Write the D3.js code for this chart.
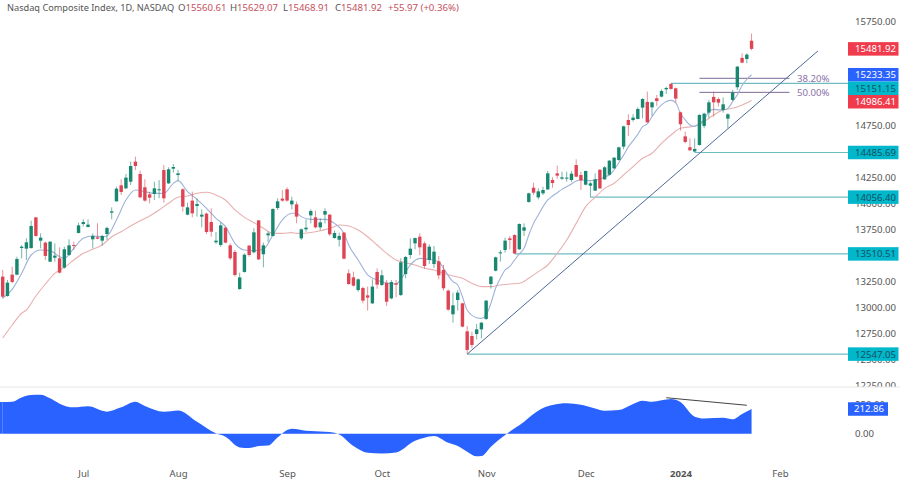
<!DOCTYPE html>
<html>
<head>
<meta charset="utf-8">
<style>
  html, body { margin: 0; background: #fff; }
  text { font-family: "Noto Sans", sans-serif; }
</style>
<script src="https://cdn.jsdelivr.net/npm/d3@7"></script>
</head>
<body>
<svg id="chart" width="900" height="483"></svg>
<script>
// daily bars (bar 0 = 8 Jun 2023, bar 158 = 24 Jan 2024)
var opens = [
  13292,13106,13311,13311,13567,13561,13567,13862,13638,13619,
  13436,13474,13468,13378,13500,13596,13712,13798,13769,13651,
  13670,13638,13702,13907,14016,14170,14141,14205,14398,14279,
  14151,14083,14087,14122,14317,14189,14330,14269,14132,13888,
  14023,13971,13869,13898,13817,13622,13596,13763,13593,13529,
  13173,13337,13590,13526,13833,13507,13689,13683,13952,14042,
  14132,13987,13987,13660,13747,13881,13862,13766,13888,13888,
  13663,13647,13715,13324,13285,13163,13183,13112,13035,13337,
  13212,13234,13083,13228,13115,13317,13500,13612,13676,13612,
  13452,13413,13439,13356,13157,12930,13067,13035,12766,12721,
  12740,12785,12885,13221,13349,13516,13548,13660,13692,13555,
  13734,14010,14147,14054,14093,14131,14221,14285,14234,14237,
  14221,14365,14269,14176,14167,14119,14320,14228,14272,14333,
  14413,14542,14798,14798,14808,14917,14972,14920,15007,15023,
  15093,15145,15103,14872,14641,14536,14495,14558,14741,14869,
  15020,15000,14895,14811,14991,15113,15395,15385,15560.61
];
var highs = [
  13356,13260,13388,13484,13596,13660,13830,13866,13708,13628,
  13632,13612,13574,13580,13651,13628,13811,13843,13843,13708,
  13805,13692,13773,13958,14157,14228,14279,14398,14446,14311,
  14228,14109,14205,14221,14365,14343,14375,14317,14141,14003,
  14109,14045,13939,13907,13949,13721,13811,13773,13612,13548,
  13330,13516,13596,13757,13837,13619,13724,13949,14045,14125,
  14151,14061,14013,13756,13843,13939,13926,13853,13949,13894,
  13734,13715,13721,13362,13340,13276,13196,13196,13266,13372,
  13356,13260,13260,13260,13468,13490,13660,13667,13708,13628,
  13603,13587,13490,13404,13170,13138,13163,13042,12817,12763,
  12837,12856,13067,13298,13484,13548,13667,13683,13699,13804,
  13804,14099,14195,14141,14157,14308,14247,14359,14301,14301,
  14308,14420,14301,14311,14205,14285,14324,14356,14413,14439,
  14542,14744,14853,14853,14920,15007,15071,14975,15039,15093,
  15119,15151.15,15110,14879,14686,14622,14622,14853,14869,14991,
  15071,15016,15016,14863,15087,15318,15439,15439,15629.07
];
var lows = [
  13083,13099,13228,13305,13468,13452,13561,13676,13564,13452,
  13432,13436,13324,13369,13491,13548,13708,13773,13766,13564,
  13651,13590,13644,13843,14013,14077,14132,14173,14317,14045,
  14013,13997,14029,14045,14003,14183,14292,14215,13917,13882,
  13862,13869,13766,13702,13676,13606,13580,13612,13452,13292,
  13164,13330,13484,13516,13452,13382,13625,13676,13933,14013,
  14013,13939,13805,13644,13724,13804,13756,13740,13804,13683,
  13657,13580,13458,13212,13196,13147,13035,12965,13029,13176,
  13202,13010,13074,13093,13106,13276,13465,13555,13500,13369,
  13413,13375,13266,13157,12965,12849,12965,12805,12547.05,12603,
  12689,12699,12875,13176,13343,13436,13522,13555,13510.51,13548,
  13683,14003,14077,14035,14077,14125,14147,14234,14221,14205,
  14202,14247,14125,14170,14056.4,14115,14135,14221,14266,14330,
  14407,14516,14645,14782,14805,14815,14770,14837,14933,15016,
  15048,15090,14965,14696,14574,14500,14485.69,14552,14718,14815,
  14831,14927,14869,14718,14981,15087,15343,15343,15468.91
];
var closes = [
  13099,13234,13241,13462,13580,13622,13779,13683,13667,13491,
  13628,13494,13330,13555,13593,13587,13785,13817,13792,13683,
  13657,13683,13760,13920,14138,14106,14244,14356,14356,14055,
  14023,14051,14141,14132,14045,14324,14346,14285,13965,13958,
  13901,13990,13888,13721,13724,13638,13785,13619,13468,13308,
  13285,13503,13500,13718,13458,13593,13708,13942,14016,14023,
  14023,14023,13869,13747,13763,13923,13766,13814,13923,13699,
  13712,13683,13465,13221,13205,13266,13061,13090,13196,13215,
  13305,13051,13240,13215,13430,13481,13561,13663,13574,13394,
  13580,13532,13305,13180,12974,13016,13138,12811,12587,12635,
  12785,12849,13061,13292,13478,13526,13638,13644,13515,13798,
  13766,14093,14099,14112,14125,14285,14192,14263,14247,14244,
  14282,14253,14218,14308,14189,14228,14141,14343,14407,14436,
  14535,14737,14750,14821,14904,15000,14776,14968,14981,15077,
  15106,15097,15004,14757,14587,14507,14520,14847,14859,14968,
  14968,14965,14949,14853,15061,15311,15350,15427,15481.92
];

// moving averages, read at the bars listed
var fastBars = [0,2,4,6,8,10,12,13,15,17,19,21,22,24,26,28,30,32,34,36,37,39,41,43,45,47,49,51,53,55,57,59,61,62,
  63,65,68,70,72,73,75,77,79,81,83,84,86,88,90,92,93,95,96,97,98,100,101,102,103,104,105,106,
  107,108,109,110,111,112,113,114,115,116,117,118,119,120,121,122,123,124,125,126,127,128,129,130,
  131,132,133,134,135,136,137,138,139,140,141,142,143,144,145,146,147,148,149,150,151,152,153,154,155,156,157,158];
var fastValues = [13083,13170,13324,13500,13548,13542,13484,13468,13564,13660,13683,13676,13683,13837,14029,14125,14109,14093,14093,14189,14215,14109,14035,13949,13853,13773,13612,13548,13542,13555,13692,13837,13901,13901,
  13869,13843,13843,13804,13708,13596,13452,13308,13260,13228,13221,13266,13404,13468,13458,13436,13372,13244,13212,13099,12971,12897,12891,12923,13035,13180,13276,13356,
  13390,13452,13510,13564,13692,13804,13884,13965,14029,14067,14099,14131,14157,14183,14212,14221,14218,14215,14221,14228,14253,14269,14320,14390,
  14460,14540,14600,14660,14735,14760,14830,14895,14943,14975,14987,14965,14860,14800,14750,14735,14765,14800,14880,14900,14895,14894,14910,14975,15040,15130,15190,15233.35];

var slowBars = [0,2,4,5,7,9,11,13,15,17,19,21,23,25,27,29,31,33,35,37,39,41,43,45,47,49,51,53,55,57,59,61,62,
  63,66,69,71,73,75,77,79,81,83,85,87,89,91,93,95,97,99,101,103,105,107,109,111,113,115,117,119,121,123,125,127,129,
  131,133,135,137,139,141,143,146,148,150,152,154,156,158];
var slowValues = [12702,12827,12940,12971,13106,13221,13324,13381,13452,13516,13555,13596,13676,13724,13779,13830,13875,13933,13997,14055,14067,14093,14103,14077,14029,13933,13862,13811,13757,13708,13708,13715,13708,
  13708,13724,13756,13788,13779,13740,13676,13596,13516,13452,13426,13404,13372,13356,13324,13298,13276,13228,13196,13196,13212,13221,13228,13276,13340,13404,13516,13644,13804,13965,14055,14141,14190,
  14270,14350,14430,14478,14574,14654,14718,14741,14782,14847,14895,14911,14943,14986.41];

// lower pane oscillator, read at the bars listed
var oscBars = [0,2,4,6,8,10,12,15,18,22,25,28,30,34,37,41,45,47,50,52,54,56,58,60,61,64,68,70,71,74,77,80,83,87,89,91,94,
  96,98,100,101,103,106,108,110,112,114,116,119,122,125,127,130,133,135,137,141,143,146,148,152,154,156,158];
var oscValues = [273,276,313,333,336,305,259,227,236,190,227,276,239,190,201,103,3,-26,-118,-124,-106,-101,-32,32,43,26,17,9,-6,-106,-164,-170,-161,-60,-34,-20,-78,
  -106,-155,-195,-193,-112,-11,46,103,170,221,247,262,250,218,198,204,256,285,276,299,273,147,132,138,124,170,212.86];

// only the labels that stay readable next to the tags
var priceTicks = [15750,14750,14250,14000,13750,13250,13000,12750,12500,12250];
var oscTicks = [250,0];
var monthBars = [17,37,60,80,102,123,143,164];
var monthNames = ['Jul','Aug','Sep','Oct','Nov','Dec','2024','Feb'];

// horizontal levels: price and the bar they start from
var levelPrices = [15151.15,14485.69,14056.40,13510.51,12547.05];
var levelBars = [141,146,124,108,98];
var fibPrices = [15199,15064];
var fibNames = ['38.20%','50.00%'];
var fibBars = [147,166];
var trendBars = [98,172];
var trendPrices = [12547.05,15462];
var oscTrendBars = [140,157];
var oscTrendValues = [310,245];

var titleText = 'Nasdaq Composite Index, 1D, NASDAQ';
var ohlcNames = ['O','H','L','C'];
var ohlcValues = ['15560.61','15629.07','15468.91','15481.92'];
var changeText = '+55.97 (+0.36%)';

var upColor = '#178770', downColor = '#de4454', tealColor = '#6fbcc2';

var svg = d3.select('#chart');
var x = d3.scaleLinear().domain([0, 164]).range([2.7, 780]);
var y = d3.scaleLinear().domain([12250, 15750]).range([385, 21]);
var yOsc = d3.scaleLinear().domain([0, 250]).range([433.7, 404.7]);

// price axis labels go first, the tags cover some of them
var axisY = svg.append('g').attr('transform', 'translate(850,0)')
  .call(d3.axisRight(y).tickValues(priceTicks).tickSize(0).tickFormat(d3.format('.2f')));
axisY.select('.domain').remove();
axisY.selectAll('text').attr('x', 5).attr('font-size', 9.6).attr('fill', '#555')
  .style('font-family', '"Noto Sans", sans-serif');

svg.append('rect').attr('x', 0).attr('y', 387).attr('width', 900).attr('height', 96).attr('fill', '#fff');
svg.append('line').attr('x1', 0).attr('x2', 900).attr('y1', 387).attr('y2', 387).attr('stroke', '#e6e6e6');

// levels
svg.selectAll('.level').data(levelPrices).enter().append('line')
  .attr('class', 'level')
  .attr('x1', function(d, i) { return x(levelBars[i]); })
  .attr('x2', 848)
  .attr('y1', function(d) { return y(d); })
  .attr('y2', function(d) { return y(d); })
  .attr('stroke', tealColor).attr('stroke-width', 1.2);

svg.selectAll('.fib').data(fibPrices).enter().append('line')
  .attr('class', 'fib')
  .attr('x1', x(fibBars[0])).attr('x2', x(fibBars[1]))
  .attr('y1', function(d) { return y(d); })
  .attr('y2', function(d) { return y(d); })
  .attr('stroke', '#7d6a96').attr('stroke-width', 1);

svg.selectAll('.fibLabel').data(fibPrices).enter().append('text')
  .attr('class', 'fibLabel')
  .attr('x', 797)
  .attr('y', function(d) { return y(d) + 3.5; })
  .attr('font-size', 9.6).attr('fill', '#8a72a8')
  .text(function(d, i) { return fibNames[i]; });

svg.append('line')
  .attr('x1', x(trendBars[0])).attr('y1', y(trendPrices[0]))
  .attr('x2', x(trendBars[1])).attr('y2', y(trendPrices[1]))
  .attr('stroke', '#4d6896').attr('stroke-width', 1);

// moving averages
var maLine = d3.line()
  .x(function(d) { return x(d[0]); })
  .y(function(d) { return y(d[1]); })
  .curve(d3.curveMonotoneX);

svg.append('path').attr('d', maLine(d3.zip(slowBars, slowValues)))
  .attr('fill', 'none').attr('stroke', '#e8b0b0').attr('stroke-width', 1.1);
svg.append('path').attr('d', maLine(d3.zip(fastBars, fastValues)))
  .attr('fill', 'none').attr('stroke', '#9fb2d8').attr('stroke-width', 1.1);

// candles
var candles = svg.selectAll('.candle').data(d3.range(closes.length)).enter().append('g')
  .attr('class', 'candle');

candles.append('line')
  .attr('x1', function(i) { return x(i); })
  .attr('x2', function(i) { return x(i); })
  .attr('y1', function(i) { return y(highs[i]); })
  .attr('y2', function(i) { return y(lows[i]); })
  .attr('stroke', function(i) { return closes[i] >= opens[i] ? upColor : downColor; })
  .attr('stroke-opacity', 0.6)
  .attr('stroke-width', 1);

candles.append('rect')
  .attr('x', function(i) { return x(i) - 1.7; })
  .attr('width', 3.4)
  .attr('y', function(i) { return y(Math.max(opens[i], closes[i])); })
  .attr('height', function(i) { return Math.max(1, Math.abs(y(opens[i]) - y(closes[i]))); })
  .attr('fill', function(i) { return closes[i] >= opens[i] ? upColor : downColor; });

// lower pane
var oscArea = d3.area()
  .x(function(d) { return x(d[0]); })
  .y0(yOsc(0))
  .y1(function(d) { return yOsc(d[1]); })
  .curve(d3.curveMonotoneX);

svg.append('path').attr('d', oscArea(d3.zip(oscBars, oscValues))).attr('fill', '#2962ff');
svg.append('rect').attr('x', 0).attr('y', yOsc(oscValues[0])).attr('width', x(0))
  .attr('height', yOsc(0) - yOsc(oscValues[0])).attr('fill', '#2962ff');

svg.append('line')
  .attr('x1', x(oscTrendBars[0])).attr('y1', yOsc(oscTrendValues[0]))
  .attr('x2', x(oscTrendBars[1])).attr('y2', yOsc(oscTrendValues[1]))
  .attr('stroke', '#444').attr('stroke-width', 1);

var axisOsc = svg.append('g').attr('transform', 'translate(850,0)')
  .call(d3.axisRight(yOsc).tickValues(oscTicks).tickSize(0).tickFormat(d3.format('.2f')));
axisOsc.select('.domain').remove();
axisOsc.selectAll('text').attr('x', 5).attr('font-size', 9.6).attr('fill', '#555')
  .style('font-family', '"Noto Sans", sans-serif');

// time axis
var axisX = svg.append('g').attr('transform', 'translate(0,467)')
  .call(d3.axisBottom(x).tickValues(monthBars).tickSize(0)
    .tickFormat(function(d, i) { return monthNames[i]; }));
axisX.select('.domain').remove();
axisX.selectAll('text').attr('font-size', 9.6).attr('fill', '#555')
  .style('font-family', '"Noto Sans", sans-serif')
  .attr('font-weight', function(d, i) { return monthNames[i] === '2024' ? 700 : 400; });

// price tags, pushed down when they would overlap like the original axis does
var tagPrices = [15481.92,15233.35,15151.15,14986.41,14485.69,14056.40,13510.51,12547.05];
var tagColors = ['#ef3b4c','#2962ff','#00b7cc','#ef3b4c','#00b7cc','#00b7cc','#00b7cc','#00b7cc'];
var tagText = ['#fff','#fff','#14505c','#fff','#14505c','#14505c','#14505c','#14505c'];
var tagH = 13.5;
var lastY = -100;
var tagY = tagPrices.map(function(p) {
  lastY = Math.max(y(p), lastY + tagH);
  return lastY;
});

var tags = svg.selectAll('.tag').data(tagPrices).enter().append('g').attr('class', 'tag')
  .attr('transform', function(d, i) { return 'translate(848,' + tagY[i] + ')'; });
tags.append('rect').attr('y', -tagH / 2).attr('width', 50.5).attr('height', tagH)
  .attr('fill', function(d, i) { return tagColors[i]; });
tags.append('text').attr('x', 7).attr('y', 3.4).attr('font-size', 9.6)
  .attr('fill', function(d, i) { return tagText[i]; })
  .text(function(d) { return d3.format('.2f')(d); });

var oscTag = svg.append('g').attr('transform', 'translate(848,' + yOsc(212.86) + ')');
oscTag.append('rect').attr('y', -tagH / 2).attr('width', 40).attr('height', tagH).attr('fill', '#2962ff');
oscTag.append('text').attr('x', 6).attr('y', 3.4).attr('font-size', 9.6).attr('fill', '#fff')
  .text(d3.format('.2f')(212.86));

// header
svg.append('text').attr('x', 7).attr('y', 10.5).attr('font-size', 9.2).attr('fill', '#555').text(titleText);
var ohlcX = [178, 230, 283, 335];
ohlcNames.forEach(function(name, i) {
  var t = svg.append('text').attr('x', ohlcX[i]).attr('y', 10.5).attr('font-size', 9.6).attr('fill', '#555');
  t.append('tspan').text(name);
  t.append('tspan').attr('fill', '#c4505e').text(ohlcValues[i]);
});
svg.append('text').attr('x', 388).attr('y', 10.5).attr('font-size', 9.6).attr('fill', '#c4505e').text(changeText);
</script>
</body>
</html>
